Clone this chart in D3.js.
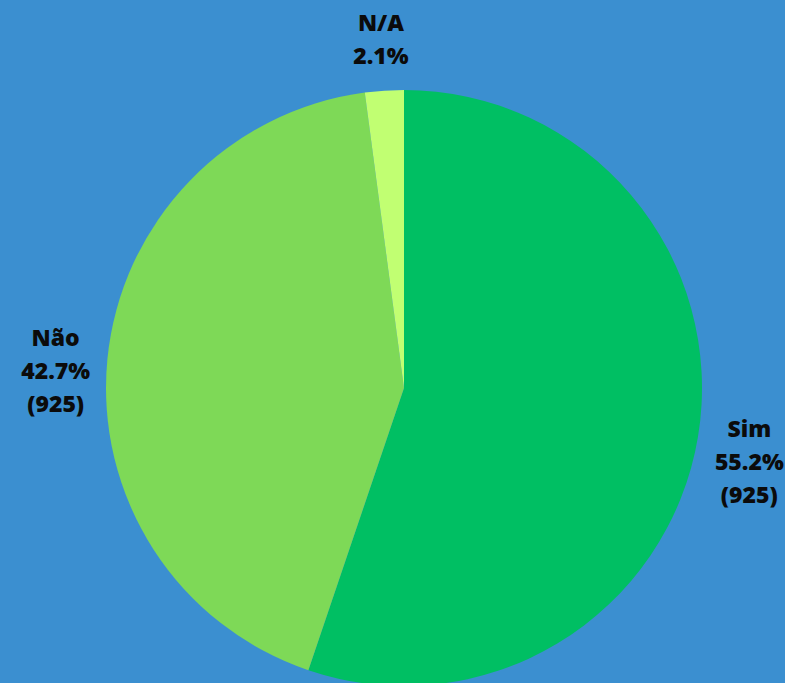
<!DOCTYPE html>
<html lang="en">
    <head>
        <meta charset="utf-8">
        <title>Pie chart</title>
        <script type="text/javascript" src="https://d3js.org/d3.v7.min.js"></script>
        <style type="text/css">
            body {
                margin: 0;
                padding: 0;
                background: #3B8FD0;
            }
            .label {
                font-family: "Open Sans", Arial, sans-serif;
                font-size: 23px;
                font-weight: 800;
                fill: #0b0b0b;
            }
        </style>
    </head>
    <body>
        <script type="text/javascript">

            // data
            const categories = ["Sim", "Não", "N/A"];
            const percents = [55.2, 42.7, 2.1];
            const counts = [925, 925, null];
            const colors = ["#00BF63", "#7ED957", "#C1FF72"];

            const svgW = 785;
            const svgH = 683;
            const cx = 404;
            const cy = 388;
            const radius = 298;
            const labelR = 350;
            const lineH = 33;

            const dataset = categories.map((c, i) => ({
                name: c,
                pct: percents[i],
                count: counts[i],
                color: colors[i]
            }));

            const svg = d3.select("body")
                .append("svg")
                .attr("width", svgW)
                .attr("height", svgH)
                .style("display", "block");

            svg.append("rect")
                .attr("width", svgW)
                .attr("height", svgH)
                .attr("fill", "#3B8FD0");

            const pie = d3.pie()
                .sort(null)
                .value(d => d.pct);

            const arc = d3.arc()
                .innerRadius(0)
                .outerRadius(radius);

            const labelArc = d3.arc()
                .innerRadius(labelR)
                .outerRadius(labelR);

            const g = svg.append("g")
                .attr("transform", "translate(" + cx + "," + cy + ")");

            const arcs = pie(dataset);

            g.selectAll("path")
                .data(arcs)
                .enter()
                .append("path")
                .attr("d", arc)
                .attr("fill", d => d.data.color);

            // labels: name, percent, (count)
            arcs.forEach(function(d) {
                const lines = [d.data.name, d.data.pct.toFixed(1) + "%"];
                if (d.data.count !== null) lines.push("(" + d.data.count + ")");
                const c = labelArc.centroid(d);
                const mid = (d.startAngle + d.endAngle) / 2;
                // side labels sit a bit lower
                const shift = 17 * Math.abs(Math.sin(mid));
                const firstY = c[1] + shift - (lines.length - 1) * lineH / 2 + 8;
                const t = g.append("text")
                    .attr("class", "label")
                    .attr("text-anchor", "middle");
                lines.forEach(function(l, i) {
                    t.append("tspan")
                        .attr("x", c[0])
                        .attr("y", firstY + i * lineH)
                        .text(l);
                });
            });

        </script>
    </body>
</html>
